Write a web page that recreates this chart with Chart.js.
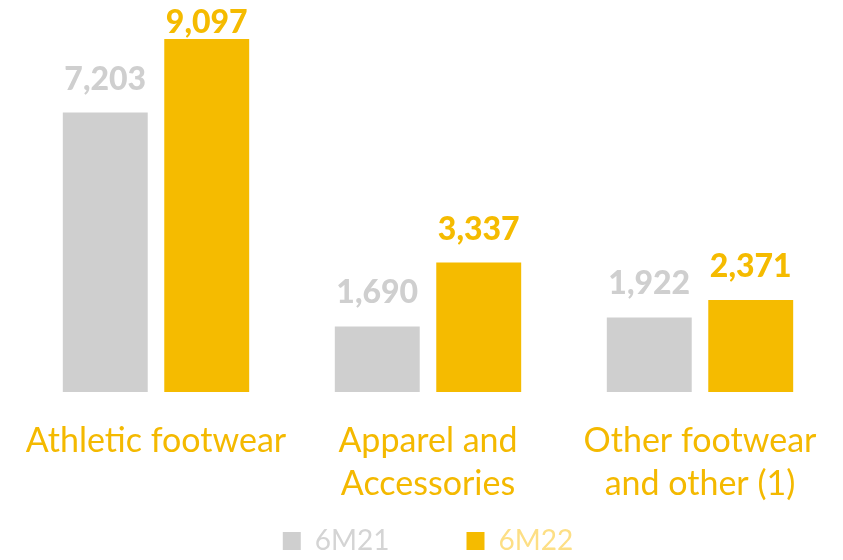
<!DOCTYPE html>
<html>
<head>
<meta charset="utf-8">
<script src="https://cdn.jsdelivr.net/npm/chart.js@4"></script>
<style>
  html, body { margin: 0; padding: 0; background: #fff; }
  #wrap { width: 843px; height: 560px; position: relative; }
</style>
</head>
<body>
<div id="wrap"><canvas id="sales"></canvas></div>
<script>
const categories = [
    ["Athletic footwear"],
    ["Apparel and", "Accessories"],
    ["Other footwear", "and other (1)"]
];
const seriesNames = ["6M21", "6M22"];
const values6M21 = [7203, 1690, 1922];
const values6M22 = [9097, 3337, 2371];

const grey = '#cfcfcf';
const gold = '#f5bb00';
const legendText = ['#d4d4d4', '#fddf85'];

// numbers above each bar
const valueLabels = {
    id: 'valueLabels',
    afterDatasetsDraw(chart) {
        const ctx = chart.ctx;
        ctx.save();
        ctx.font = '900 32px Lato';
        ctx.textAlign = 'center';
        ctx.textBaseline = 'alphabetic';
        chart.data.datasets.forEach((ds, i) => {
            const meta = chart.getDatasetMeta(i);
            ctx.fillStyle = ds.backgroundColor;
            meta.data.forEach((bar, j) => {
                let y = bar.y - 23;
                if (y < 33) y = 33;
                ctx.fillText(ds.data[j].toLocaleString('en-US'), bar.x, y);
            });
        });
        ctx.restore();
    }
};

// the category names run down under the legend row, so let the x axis
// label clip box reach the bottom of the canvas
const longTicks = {
    id: 'longTicks',
    afterLayout(chart) {
        chart.scales.x.bottom = chart.height;
    }
};

new Chart(document.getElementById('sales'), {
    type: 'bar',
    data: {
        labels: categories,
        datasets: [
            { label: seriesNames[0], data: values6M21, backgroundColor: grey },
            { label: seriesNames[1], data: values6M22, backgroundColor: gold }
        ]
    },
    options: {
        responsive: true,
        maintainAspectRatio: false,
        animation: false,
        categoryPercentage: 0.746,
        barPercentage: 0.837,
        layout: { padding: { left: 20, right: 7, top: 4, bottom: 0 } },
        scales: {
            x: {
                grid: { display: false },
                border: { display: false },
                ticks: {
                    color: '#f4b900',
                    font: { family: 'Lato', size: 34, lineHeight: 1.27 },
                    padding: 19,
                    maxRotation: 0
                },
                afterFit(scale) { scale.height = 58; }
            },
            y: {
                display: false,
                min: 0,
                max: 10000
            }
        },
        plugins: {
            tooltip: { enabled: false },
            legend: {
                position: 'bottom',
                maxHeight: 110,
                labels: {
                    boxWidth: 18,
                    boxHeight: 18,
                    padding: 77,
                    font: { family: 'Lato', size: 28 },
                    generateLabels(chart) {
                        return chart.data.datasets.map((ds, i) => ({
                            text: ds.label,
                            fillStyle: ds.backgroundColor,
                            strokeStyle: ds.backgroundColor,
                            lineWidth: 0,
                            fontColor: legendText[i],
                            datasetIndex: i
                        }));
                    }
                }
            }
        }
    },
    plugins: [valueLabels, longTicks]
});
</script>
</body>
</html>
